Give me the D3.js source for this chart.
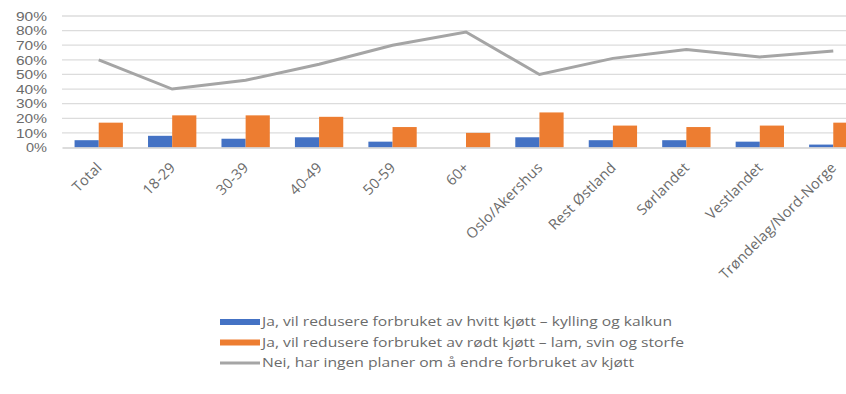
<!DOCTYPE html>
<html>
<head>
<meta charset="utf-8">
<script src="https://cdn.jsdelivr.net/npm/d3@7"></script>
<style>
  html, body { margin: 0; padding: 0; background: #fff; }
  svg { display: block; }
  text { font-family: "Open Sans", "Liberation Sans", sans-serif; fill: #6b6b6b; }
</style>
</head>
<body>
<svg id="chart" width="846" height="394"></svg>
<script>
// Categories (total, age groups, regions)
const categories = ["Total", "18-29", "30-39", "40-49", "50-59", "60+",
  "Oslo/Akershus", "Rest Østland", "Sørlandet", "Vestlandet", "Trøndelag/Nord-Norge"];

// Share of respondents, percent
const hvittKjott = [5, 8, 6, 7, 4, 0, 7, 5, 5, 4, 2];
const rodtKjott = [17, 22, 22, 21, 14, 10, 24, 15, 14, 15, 17];
const ingenPlaner = [60, 40, 46, 57, 70, 79, 50, 61, 67, 62, 66];

const yTicks = [0, 10, 20, 30, 40, 50, 60, 70, 80, 90];

const seriesNames = [
  "Ja, vil redusere forbruket av hvitt kjøtt – kylling og kalkun",
  "Ja, vil redusere forbruket av rødt kjøtt – lam, svin og storfe",
  "Nei, har ingen planer om å endre forbruket av kjøtt"
];
const colors = ["#4472c4", "#ed7d31", "#a5a5a5"];

const svg = d3.select("#chart");
const plotLeft = 62, plotRight = 870, plotTop = 16, plotBottom = 147.5;

const x = d3.scaleBand().domain(categories).range([plotLeft, plotRight]).paddingInner(0).paddingOuter(0);
const y = d3.scaleLinear().domain([0, 90]).range([plotBottom, plotTop]);
const xs = d3.scaleBand().domain([0, 1]).range([0, x.bandwidth()]).paddingInner(0).paddingOuter(0.52);

// Gridlines
svg.append("g")
  .selectAll("line")
  .data(yTicks.slice(1))
  .join("line")
  .attr("x1", plotLeft).attr("x2", plotRight)
  .attr("y1", d => y(d)).attr("y2", d => y(d))
  .attr("stroke", "#dcdcdc").attr("stroke-width", 1.3);

// Y axis labels
const yAxis = d3.axisLeft(y).tickValues(yTicks).tickFormat(d => d + "%").tickSize(0).tickPadding(0);
const gy = svg.append("g").attr("transform", `translate(47,0)`).call(yAxis);
gy.select(".domain").remove();
gy.selectAll("text")
  .style("font-family", "'Liberation Sans', sans-serif")
  .style("font-size", "12px")
  .attr("fill", "#8a8a8a")
  .attr("dy", "0.36em")
  .attr("textLength", d => d === 0 ? 21 : 31)
  .attr("lengthAdjust", "spacingAndGlyphs");

// Bars
const barData = [hvittKjott, rodtKjott];
barData.forEach((vals, s) => {
  svg.append("g")
    .selectAll("rect")
    .data(vals)
    .join("rect")
    .attr("x", (d, i) => x(categories[i]) + xs(s))
    .attr("width", xs.bandwidth())
    .attr("y", d => y(d))
    .attr("height", d => plotBottom - y(d))
    .attr("fill", colors[s]);
});

// Category axis
const gx = svg.append("g").attr("transform", `translate(0,${plotBottom})`)
  .call(d3.axisBottom(x).tickSize(0).tickPadding(0));
gx.select(".domain").attr("stroke", "#d0d0d0").attr("stroke-width", 1.3);
gx.selectAll("text")
  .style("font-size", "14.5px")
  .style("letter-spacing", "0.2px")
  .attr("fill", "#7a7a7a")
  .attr("text-anchor", "end")
  .attr("y", 0)
  .attr("dy", 0)
  .attr("transform", "translate(4,21) rotate(-45)");

// Line series
const line = d3.line()
  .x((d, i) => x(categories[i]) + x.bandwidth() / 2)
  .y(d => y(d));
svg.append("path")
  .datum(ingenPlaner)
  .attr("d", line)
  .attr("fill", "none")
  .attr("stroke", colors[2])
  .attr("stroke-width", 3);

// Legend
const legendRows = [
  { name: seriesNames[0], color: colors[0], type: "bar", width: 410 },
  { name: seriesNames[1], color: colors[1], type: "bar", width: 422 },
  { name: seriesNames[2], color: colors[2], type: "line", width: 372 }
];
const legend = svg.append("g");
legendRows.forEach((r, i) => {
  const yy = 322 + i * 20.5;
  if (r.type === "bar") {
    legend.append("rect").attr("x", 220).attr("y", yy - 3).attr("width", 40).attr("height", 6).attr("fill", r.color);
  } else {
    legend.append("line").attr("x1", 220).attr("x2", 260).attr("y1", yy).attr("y2", yy)
      .attr("stroke", r.color).attr("stroke-width", 3);
  }
  legend.append("text")
    .attr("x", 262).attr("y", yy)
    .attr("dy", "0.35em")
    .style("font-size", "12px")
    .attr("fill", "#666")
    .attr("textLength", r.width)
    .attr("lengthAdjust", "spacingAndGlyphs")
    .text(r.name);
});
</script>
</body>
</html>
